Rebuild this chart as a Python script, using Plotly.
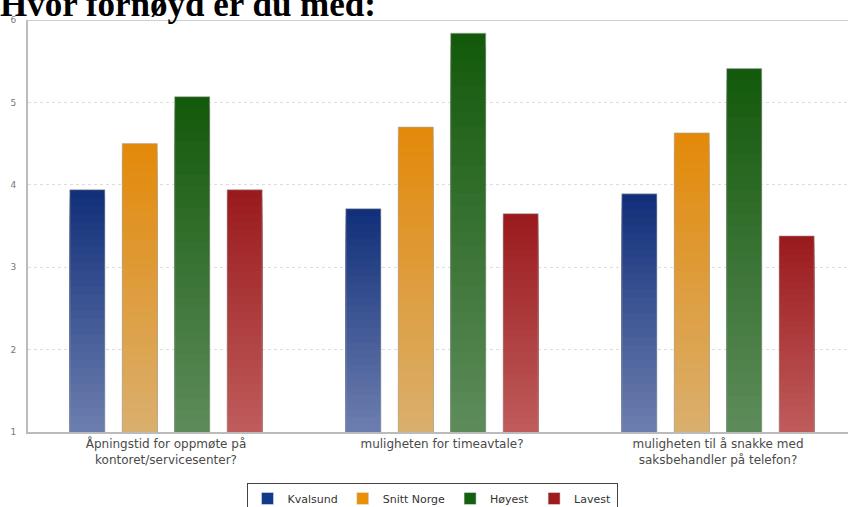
import plotly.graph_objects as go

categories = [
    "Åpningstid for oppmøte på<br>kontoret/servicesenter?",
    "muligheten for timeavtale?",
    "muligheten til å snakke med<br>saksbehandler på telefon?",
]
series_names = ["Kvalsund", "Snitt Norge", "Høyest", "Lavest"]
kvalsund = [3.94, 3.71, 3.89]
snitt_norge = [4.50, 4.70, 4.63]
hoyest = [5.07, 5.84, 5.41]
lavest = [3.94, 3.65, 3.38]
series_values = [kvalsund, snitt_norge, hoyest, lavest]
y_ticks = [1, 2, 3, 4, 5, 6]
title_text = "Hvor fornøyd er du med:"

# gradient: (top colour, bottom colour)
grad = [
    ((18, 48, 122), (110, 128, 176)),
    ((227, 138, 11), (217, 176, 112)),
    ((20, 90, 12), (95, 141, 92)),
    ((154, 27, 30), (192, 93, 93)),
]
legend_colors = ["#123a8a", "#e8900a", "#136010", "#a01c1c"]

BASE = 1.0
STEPS = 30

def lerp(a, b, t):
    return "rgb(%d,%d,%d)" % tuple(round(a[i] + (b[i] - a[i]) * t) for i in range(3))

fig = go.Figure()
for si, (name, vals) in enumerate(zip(series_names, series_values)):
    top, bot = grad[si]
    for k in range(STEPS):
        f = 1 - k / STEPS
        ys = [BASE + (v - BASE) * f for v in vals]
        fig.add_trace(go.Bar(
            x=categories, y=ys, name=name, offsetgroup=str(si),
            marker=dict(color=lerp(bot, top, f), line=dict(width=0)),
            showlegend=False, hoverinfo="skip",
        ))
    fig.add_trace(go.Bar(
        x=categories, y=vals, name=name, offsetgroup=str(si),
        marker=dict(color="rgba(0,0,0,0)", line=dict(width=1, color="rgba(170,170,170,0.6)")),
        showlegend=False,
    ))
    fig.add_trace(go.Bar(
        x=[categories[0]], y=[None], name=name, offsetgroup=str(si),
        marker=dict(color=legend_colors[si]), showlegend=True,
    ))

W, H = 848, 507
L, R, T, B = 28, 0, 20, 75
plot_h = H - T - B
plot_w = W - L - R

def px_x(x):
    return (x - L) / plot_w

def px_y(y):
    return (H - B - y) / plot_h

fig.update_layout(
    width=W, height=H,
    margin=dict(l=L, r=R, t=T, b=B, pad=0, autoexpand=False),
    plot_bgcolor="white", paper_bgcolor="white",
    barmode="group", bargap=0.24, bargroupgap=0.33,
    showlegend=True,
    legend=dict(
        orientation="h", x=px_x(432), xanchor="center",
        y=px_y(483), yanchor="top",
        bordercolor="#444", borderwidth=1,
        font=dict(family="DejaVu Sans", size=11, color="#333"),
        itemwidth=30, traceorder="normal", tracegroupgap=0,
    ),
    font=dict(family="DejaVu Sans", color="#444"),
)
fig.update_xaxes(
    type="category", range=[-0.5, -0.5 + plot_w / 276],
    showline=True, linecolor="#bbbbbb", linewidth=2,
    showgrid=False, ticks="", tickfont=dict(size=12, color="#4a4a4a"),
    fixedrange=True, automargin=False,
)
fig.update_yaxes(
    range=[1, 6], tickvals=y_ticks, ticktext=[str(t) for t in y_ticks],
    showline=True, linecolor="#bbbbbb", linewidth=2,
    showgrid=True, gridcolor="#dddddd", griddash="dot", gridwidth=1,
    zeroline=False, ticks="", ticklabelstandoff=8,
    tickfont=dict(size=9, color="#777"), automargin=False,
)
fig.add_shape(type="line", xref="paper", yref="y", x0=0, x1=1, y0=6, y1=6,
              line=dict(color="#d0d0d0", width=2))
fig.add_annotation(
    text="<b>%s</b>" % title_text, xref="paper", yref="paper",
    x=px_x(-2), xanchor="left", y=px_y(5), yanchor="middle",
    showarrow=False, font=dict(family="Liberation Serif", size=35, color="black"),
)
fig.write_html("out.html", config={"displayModeBar": False},
               post_script="document.body.style.margin='0';")
